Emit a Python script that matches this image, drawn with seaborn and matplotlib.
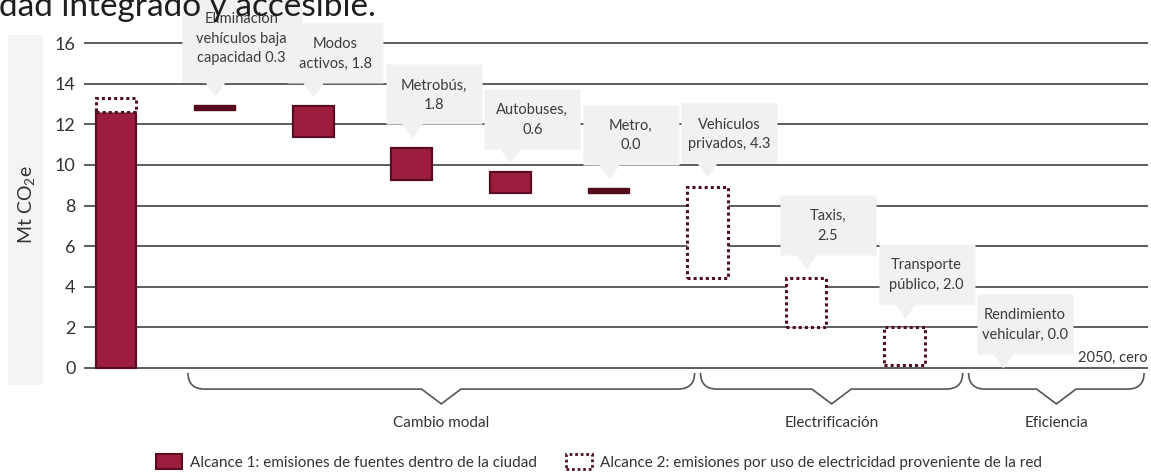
import numpy as np
import pandas as pd
import matplotlib
matplotlib.use("Agg")
import matplotlib.pyplot as plt
import matplotlib.transforms as mtransforms
from matplotlib.path import Path as MplPath
from matplotlib.patches import Patch, PathPatch, Rectangle
import seaborn as sns

# ---------------------------------------------------------------------------
# Data (Mt CO2e)
# ---------------------------------------------------------------------------
STEPS = [
    "Línea base", "Eliminación vehículos baja capacidad", "Modos activos",
    "Metrobús", "Autobuses", "Metro", "Vehículos privados", "Taxis",
    "Transporte público", "Rendimiento vehicular", "2050",
]

# Alcance 1 (solid) floating bars
S1_STEPS  = ["Línea base", "Eliminación vehículos baja capacidad", "Modos activos",
             "Metrobús", "Autobuses", "Metro"]
S1_BOTTOM = [0.0, 12.70, 11.35, 9.25, 8.60, 8.62]
S1_TOP    = [12.62, 12.95, 12.90, 10.85, 9.65, 8.87]

# Alcance 2 (dotted) floating bars
S2_STEPS  = ["Línea base", "Vehículos privados", "Taxis", "Transporte público"]
S2_BOTTOM = [12.62, 4.43, 2.0, 0.15]
S2_TOP    = [13.28, 8.93, 4.43, 2.0]

CALLOUT_STEPS = STEPS[1:10]
CALLOUTS = [
    "Eliminación\nvehículos baja\ncapacidad 0.3", "Modos\nactivos, 1.8",
    "Metrobús,\n1.8", "Autobuses,\n0.6", "Metro,\n0.0", "Vehículos\nprivados, 4.3",
    "Taxis,\n2.5", "Transporte\npúblico, 2.0", "Rendimiento\nvehicular, 0.0",
]

GROUPS      = ["Cambio modal", "Electrificación", "Eficiencia"]
GROUP_EDGES = [0.70, 5.90, 8.62, 10.46]

LEGEND_LABELS = [
    "Alcance 1: emisiones de fuentes dentro de la ciudad",
    "Alcance 2: emisiones por uso de electricidad proveniente de la red",
]

# ---------------------------------------------------------------------------
# Style
# ---------------------------------------------------------------------------
FILL   = "#9c1d3e"
EDGE   = "#5c0c20"
DARK   = "#560b1c"
DOT    = "#4e1022"
GRID   = "#505050"
BUBBLE = "#f1f1f1"
TEXT   = "#3c3c3c"
W, H, DPI = 1151, 473, 100

sns.set_theme(style="white")
plt.rcParams["font.family"] = ["Lato", "DejaVu Sans"]

fig = plt.figure(figsize=(W / DPI, H / DPI), dpi=DPI)
ax = fig.add_axes([84 / W, 1 - 370 / H, (1148 - 84) / W, 329 / H])

# y-label side panel
fig.patches.append(Rectangle((8 / W, 1 - 385 / H), 35 / W, 350 / H,
                             transform=fig.transFigure, facecolor="#f4f4f4",
                             edgecolor="none", zorder=0))

# ---------------------------------------------------------------------------
# Bars
# ---------------------------------------------------------------------------
s1 = pd.DataFrame({"step": S1_STEPS, "bottom": S1_BOTTOM, "top": S1_TOP})
s1["height"] = s1["top"] - s1["bottom"]
thick = s1[s1["height"] >= 0.4]
thin = s1[s1["height"] < 0.4]

sns.barplot(data=thick, x="step", y="height", order=STEPS, bottom=thick["bottom"].values,
            width=0.415, color=FILL, saturation=1, edgecolor=EDGE, linewidth=1.6,
            zorder=3, ax=ax)
sns.barplot(data=thin, x="step", y="height", order=STEPS, bottom=thin["bottom"].values,
            width=0.415, color=DARK, saturation=1, edgecolor=DARK, linewidth=1.0,
            zorder=3, ax=ax)

s2 = pd.DataFrame({"step": S2_STEPS, "bottom": S2_BOTTOM, "top": S2_TOP})
s2["height"] = s2["top"] - s2["bottom"]
sns.barplot(data=s2, x="step", y="height", order=STEPS, bottom=s2["bottom"].values,
            width=0.415, color="white", saturation=1, edgecolor=DOT, linewidth=2.2,
            linestyle=(0, (1, 1)), zorder=3, ax=ax)

# ---------------------------------------------------------------------------
# Axes
# ---------------------------------------------------------------------------
ax.set_xlim(-0.325, 10.47)
ax.set_ylim(-0.1, 16.1)
ax.set_yticks(np.arange(0, 17, 2))
ax.set_xticks([])
ax.set_xlabel("")
ax.set_ylabel("")
ax.grid(axis="y", color=GRID, linewidth=1.3)
ax.set_axisbelow(True)
sns.despine(ax=ax, left=True, bottom=True)
ax.tick_params(axis="y", length=0, pad=6, labelsize=13, labelcolor="#333333")

fig.text(27 / W, 1 - 205 / H, r"Mt CO$_\mathregular{2}$e", rotation=90,
         ha="center", va="center", fontsize=14, color="#333333")

# ---------------------------------------------------------------------------
# Callout bubbles
# ---------------------------------------------------------------------------
def bubble(left, width, height):
    verts = [(0, 0), (-10, 14), (left, 14), (left, 14 + height),
             (left + width, 14 + height), (left + width, 14), (10, 14), (0, 0)]
    codes = [MplPath.MOVETO] + [MplPath.LINETO] * 6 + [MplPath.CLOSEPOLY]
    path = MplPath(verts, codes)
    rescale = np.abs(path.vertices).max()
    return path, 2 * rescale * 72 / DPI


tops = {s: t for s, t in zip(S1_STEPS, S1_TOP)}
for s, t in zip(S2_STEPS, S2_TOP):
    tops[s] = max(tops.get(s, 0), t)

for step, label in zip(CALLOUT_STEPS, CALLOUTS):
    i = STEPS.index(step)
    top = tops.get(step, 0.0)
    tip = top + 0.45 if top > 0 else 0.0
    nlines = label.count("\n") + 1
    if nlines == 3:
        left, width, height = -33, 120, 88
    else:
        left, width, height = -26, 96, 60
    path, ms = bubble(left, width, height)
    ax.plot([i], [tip], marker=path, markersize=ms, color=BUBBLE,
            markeredgewidth=0, linestyle="none", clip_on=False, zorder=4)
    ax.annotate(label, xy=(i, tip), xytext=(left + width / 2, 14 + height / 2 - 1),
                textcoords="offset pixels", ha="center", va="center",
                fontsize=10.5, color=TEXT, linespacing=1.5, zorder=5,
                annotation_clip=False)

ax.annotate("2050, cero", xy=(1, 0), xycoords=("axes fraction", "data"),
            xytext=(0, 3), textcoords="offset pixels", ha="right", va="bottom",
            fontsize=10.5, color="#333333")

# ---------------------------------------------------------------------------
# Group brackets
# ---------------------------------------------------------------------------
trans = mtransforms.blended_transform_factory(ax.transData, ax.transAxes)
y_top, y_mid, y_pt, y_txt = -0.009, -0.058, -0.103, -0.162
r, v = 0.17, 0.2
for name, x0, x1 in zip(GROUPS, GROUP_EDGES[:-1], GROUP_EDGES[1:]):
    x0, x1 = x0 + 0.03, x1 - 0.03
    xm = (x0 + x1) / 2
    verts = [(x0, y_top), (x0, y_mid), (x0 + r, y_mid), (xm - v, y_mid), (xm, y_pt),
             (xm + v, y_mid), (x1 - r, y_mid), (x1, y_mid), (x1, y_top)]
    codes = [MplPath.MOVETO, MplPath.CURVE3, MplPath.CURVE3, MplPath.LINETO,
             MplPath.LINETO, MplPath.LINETO, MplPath.LINETO, MplPath.CURVE3,
             MplPath.CURVE3]
    ax.add_patch(PathPatch(MplPath(verts, codes), transform=trans, facecolor="none",
                           edgecolor="#555555", linewidth=1.2, clip_on=False))
    ax.text(xm, y_txt, name, transform=trans, ha="center", va="center",
            fontsize=11, color="#333333")

# ---------------------------------------------------------------------------
# Legend
# ---------------------------------------------------------------------------
handles = [
    Patch(facecolor=FILL, edgecolor=EDGE, linewidth=1.5),
    Patch(facecolor="white", edgecolor=DOT, linewidth=2.0, linestyle=(0, (1, 1))),
]
for h, lab, x in zip(handles, LEGEND_LABELS, [150, 560]):
    fig.legend([h], [lab], loc="center left", bbox_to_anchor=(x / W, 1 - 462 / H),
               frameon=False, fontsize=11, handlelength=1.7, handleheight=1.1,
               handletextpad=0.55, borderaxespad=0, labelcolor="#333333")

# cut-off heading from the source page
fig.text(-0.001, 1 - 16 / H, "dad integrado y accesible.", ha="left", va="baseline",
         fontsize=24, color="#1e1e1e")

fig.savefig("out.png", dpi=DPI)
